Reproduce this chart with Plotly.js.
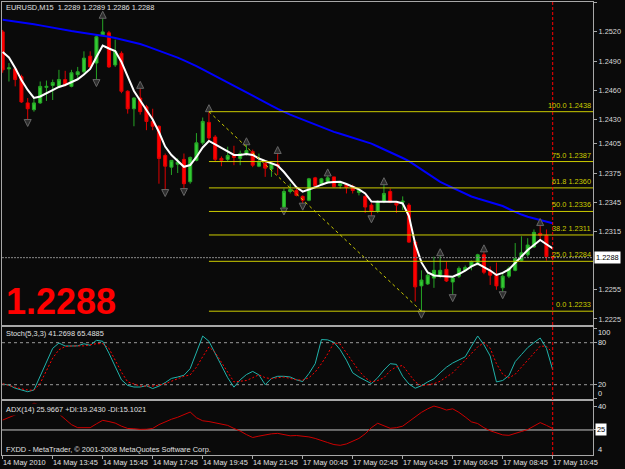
<!DOCTYPE html>
<html><head><meta charset="utf-8">
<script src="https://cdn.plot.ly/plotly-3.0.1.min.js"></script>
<style>html,body{margin:0;padding:0;background:#0a0a0a;overflow:hidden}#chart{width:625px;height:469px}</style>
</head><body><div id="chart"></div>
<script>
// ---------- data ----------
const symbol = 'EURUSD', timeframe = 'M15';
const tickIndex = [0,8,16,24,32,40,48,56,64,72,80,88];
const tickLabels = ['14 May 2010','14 May 13:45','14 May 15:45','14 May 17:45','14 May 19:45','14 May 21:45',
  '17 May 00:45','17 May 02:45','17 May 04:45','17 May 06:45','17 May 08:45','17 May 10:45'];

const open = [1.2520,1.2482,1.2482,1.2474,1.2447,1.2440,1.2447,1.2463,1.2465,1.2464,
1.2471,1.2464,1.2476,1.2479,1.2495,1.2488,1.2517,1.2519,1.2486,1.2498,
1.2459,1.2441,1.2452,1.2443,1.2428,1.2423,1.2393,1.2381,1.2384,1.2389,
1.2366,1.2388,1.2406,1.2427,1.2412,1.2390,1.2389,1.2393,1.2390,1.2395,
1.2397,1.2382,1.2385,1.2379,1.2384,1.2340,1.2356,1.2357,1.2351,1.2347,
1.2370,1.2364,1.2366,1.2371,1.2362,1.2363,1.2361,1.2355,1.2351,1.2342,
1.2336,1.2346,1.2356,1.2344,1.2345,1.2342,1.2304,1.2259,1.2261,1.2267,
1.2269,1.2276,1.2263,1.2269,1.2275,1.2279,1.2283,1.2291,1.2274,1.2270,
1.2257,1.2269,1.2275,1.2285,1.2291,1.2299,1.2313,1.2311,1.2289];
const high = [1.2522,1.2488,1.2484,1.2476,1.2452,1.2452,1.2469,1.2470,1.2471,1.2481,
1.2480,1.2481,1.2484,1.2500,1.2500,1.2517,1.2534,1.2521,1.2512,1.2500,
1.2460,1.2453,1.2462,1.2445,1.2441,1.2424,1.2395,1.2388,1.2390,1.2395,
1.2392,1.2416,1.2432,1.2438,1.2414,1.2392,1.2402,1.2403,1.2398,1.2404,
1.2399,1.2395,1.2388,1.2385,1.2395,1.2359,1.2364,1.2359,1.2352,1.2370,
1.2371,1.2370,1.2372,1.2371,1.2366,1.2364,1.2363,1.2359,1.2352,1.2344,
1.2347,1.2363,1.2359,1.2346,1.2351,1.2344,1.2306,1.2275,1.2274,1.2289,
1.2290,1.2284,1.2268,1.2279,1.2280,1.2285,1.2292,1.2294,1.2279,1.2283,
1.2272,1.2279,1.2303,1.2310,1.2308,1.2317,1.2321,1.2317,1.2289];
const low = [1.2478,1.2469,1.2464,1.2447,1.2430,1.2438,1.2446,1.2449,1.2450,1.2462,
1.2464,1.2463,1.2472,1.2477,1.2481,1.2471,1.2516,1.2483,1.2484,1.2457,
1.2436,1.2423,1.2435,1.2419,1.2419,1.2364,1.2358,1.2373,1.2375,1.2359,
1.2364,1.2387,1.2404,1.2409,1.2387,1.2382,1.2387,1.2383,1.2383,1.2393,
1.2381,1.2381,1.2371,1.2371,1.2373,1.2339,1.2354,1.2351,1.2344,1.2346,
1.2360,1.2363,1.2364,1.2360,1.2359,1.2354,1.2354,1.2352,1.2334,1.2331,
1.2334,1.2344,1.2344,1.2334,1.2337,1.2303,1.2243,1.2233,1.2260,1.2257,
1.2267,1.2263,1.2250,1.2267,1.2274,1.2275,1.2280,1.2271,1.2260,1.2255,
1.2253,1.2267,1.2274,1.2284,1.2289,1.2298,1.2306,1.2285,1.2286];
const close = [1.2481,1.2483,1.2471,1.2448,1.2441,1.2447,1.2464,1.2464,1.2468,1.2471,
1.2466,1.2478,1.2479,1.2493,1.2484,1.2515,1.2520,1.2484,1.2500,1.2459,
1.2441,1.2452,1.2438,1.2428,1.2423,1.2390,1.2382,1.2388,1.2386,1.2364,
1.2391,1.2406,1.2428,1.2411,1.2389,1.2388,1.2393,1.2391,1.2395,1.2398,
1.2383,1.2387,1.2380,1.2384,1.2382,1.2356,1.2358,1.2352,1.2347,1.2369,
1.2362,1.2369,1.2370,1.2361,1.2364,1.2360,1.2357,1.2357,1.2340,1.2336,
1.2346,1.2354,1.2345,1.2342,1.2346,1.2304,1.2258,1.2265,1.2270,1.2275,
1.2275,1.2264,1.2267,1.2277,1.2278,1.2284,1.2291,1.2273,1.2270,1.2259,
1.2269,1.2277,1.2287,1.2293,1.2301,1.2314,1.2311,1.2289,1.2288];

const maFast = [1.24993,1.24937,1.24829,1.24706,1.24603,1.24521,1.24536,1.24567,1.24600,1.24634,
1.24654,1.24685,1.24713,1.24762,1.24819,1.24942,1.25060,1.25029,1.25004,1.24891,
1.24737,1.24593,1.24495,1.24398,1.24300,1.24171,1.24022,1.23935,1.23873,1.23814,
1.23832,1.23915,1.24012,1.24079,1.24043,1.24007,1.23971,1.23935,1.23935,1.23945,
1.23935,1.23899,1.23873,1.23850,1.23827,1.23760,1.23683,1.23603,1.23558,1.23578,
1.23603,1.23630,1.23652,1.23658,1.23660,1.23637,1.23609,1.23581,1.23540,1.23457,
1.23455,1.23455,1.23455,1.23455,1.23437,1.23308,1.23021,1.22831,1.22728,1.22697,
1.22692,1.22689,1.22685,1.22712,1.22746,1.22790,1.22820,1.22784,1.22748,1.22702,
1.22723,1.22759,1.22825,1.22887,1.22959,1.23010,1.23062,1.23018,1.22976];
const maSlow = [1.25324,1.25316,1.25307,1.25298,1.25288,1.25279,1.25267,1.25254,1.25242,1.25230,
1.25217,1.25208,1.25199,1.25190,1.25180,1.25172,1.25163,1.25151,1.25137,1.25123,
1.25110,1.25096,1.25076,1.25053,1.25030,1.25008,1.24985,1.24963,1.24936,1.24908,
1.24880,1.24848,1.24814,1.24781,1.24747,1.24714,1.24681,1.24648,1.24615,1.24582,
1.24549,1.24513,1.24478,1.24443,1.24409,1.24377,1.24350,1.24324,1.24298,1.24272,
1.24246,1.24221,1.24195,1.24173,1.24153,1.24133,1.24114,1.24095,1.24077,1.24052,
1.24022,1.23994,1.23965,1.23935,1.23904,1.23871,1.23828,1.23783,1.23737,1.23692,
1.23658,1.23627,1.23596,1.23565,1.23532,1.23509,1.23488,1.23468,1.23449,1.23432,
1.23411,1.23380,1.23349,1.23323,1.23301,1.23283,1.23267,1.23250,1.23233];

const stochMain = [21,19.5,15,12,10,12.5,33,53,72,79.5,
75.3,75.3,75.5,78.5,76.3,83.4,82,65,46,27,
19,16.7,16.7,18.5,14.5,18,23,29,31,33.5,
43,65,89.5,82,64,46,30,16.5,27,34.5,
39,34,20,29,32,32,31,27,24.5,36,
50,84.5,84,80.5,70,55,37,31,26,21.5,
30,41,50,49,32,21,15,18.5,24,28.5,
37,45,51,55,59.8,75,89.6,77,61,24,
26,33,53,63,73,80,86.7,72,41.3];
const stochSignal = [21.4,19,16,14,12.5,12,22,40,58,70,
74.5,75.3,75.3,75.5,77,78.6,78.6,72,55,38,
24,21,18.1,18.1,18.1,19.5,21.4,25,28.6,32,
34,45,60,74,66,52,38,24,25,26,
30,34.3,30,28.6,30,31,29,27,26.5,30,
38,50,64,80,78,65,52.4,40,30,24,
26,30,40,45.5,47.5,36,24,18.5,19.5,21.4,
25,31,37,46,55,64,74,80,72,50,
35,29.6,35,45,55,65,75,75,65.5];
const adx = [31.5,33,34.8,36.5,40,42.5,41,40,38,35.5,
32,28.5,26.5,26.5,26.5,29,31.3,30.5,29.5,27.5,
26,25.8,25.4,25.5,26,28.5,30.5,32,33.3,35,
36.7,33,31,30.5,29.5,28.8,28,26,24.3,22,
20.1,21,22,22.5,22.8,21.8,21.2,21.4,21,20.5,
19.5,17.9,16.8,15.5,15,15.9,17.5,19.5,22.5,26.5,
29.4,27.5,26.1,26.5,27.5,30.5,33.5,36.5,38.8,40.6,
39.5,38,38.8,36.5,33.5,30.3,29.2,26.5,24.5,23,
21.8,21.5,22.5,24,25.3,27.5,29.8,28,26];

const fibHigh = 1.2438, fibLow = 1.2233, fibHighBar = 33, fibLowBar = 67;
const fibLevels = [0, 25, 38.2, 50, 61.8, 75, 100];
const fractalUp = [16,22,33,39,44,52,61,70,77,86];
const fractalDown = [4,15,26,29,45,48,59,67,72,80];
const priceTicks = [1.2550,1.2520,1.2490,1.2460,1.2430,1.2405,1.2375,1.2345,1.2315,1.2255,1.2225];
const stochLevels = [80, 20];
const adxLevel = 25;
const stochText = 'Stoch(5,3,3) 41.2698 65.4885';
const adxText = 'ADX(14) 25.9667 +DI:19.2430 -DI:15.1021';
const footerText = 'FXDD - MetaTrader, \u00a9 2001-2008 MetaQuotes Software Corp.';

// ---------- helpers / layout constants ----------
const N = close.length;
const idx = Array.from({length: N}, (_, i) => i);
const last = N - 1;
const bid = close[last];
const fmt = v => (Math.round(v * 10000 + 1e-6) / 10000).toFixed(4);
const FONT = 'Liberation Sans, Arial, sans-serif';
const FS = 7.4;
const BG = '#0a0a0a';
const AX = '#a8a8a8';
const FIB = '#cccc00';

const xRange = [-0.11, 94.45];
const yMainRange = [1.221882, 1.25507];
const yStochRange = [-0.43, 102.43];
const yAdxRange = [8.69, 43.9];
const mainPx = 323;
const fracOff = 7 * (yMainRange[1] - yMainRange[0]) / mainPx;

const traces = [];
traces.push({type: 'candlestick', x: idx, open, high, low, close, xaxis: 'x', yaxis: 'y',
  increasing: {line: {color: '#26a626', width: 1}, fillcolor: '#33cc33'},
  decreasing: {line: {color: '#e00000', width: 1}, fillcolor: '#ff0000'},
  whiskerwidth: 0, hoverinfo: 'skip'});
traces.push({type: 'scatter', mode: 'lines', x: idx, y: maSlow, xaxis: 'x', yaxis: 'y',
  line: {color: '#0000ff', width: 2}, hoverinfo: 'skip'});
traces.push({type: 'scatter', mode: 'lines', x: idx, y: maFast, xaxis: 'x', yaxis: 'y',
  line: {color: '#ffffff', width: 2}, hoverinfo: 'skip'});
// fractals
const fracMarker = s => ({symbol: s, size: 7, color: '#2e2e2e', line: {color: '#666666', width: 1}});
traces.push({type: 'scatter', mode: 'markers', x: fractalUp, y: fractalUp.map(i => high[i] + fracOff),
  xaxis: 'x', yaxis: 'y', marker: fracMarker('arrow-up'), hoverinfo: 'skip'});
traces.push({type: 'scatter', mode: 'markers', x: fractalDown, y: fractalDown.map(i => low[i] - fracOff),
  xaxis: 'x', yaxis: 'y', marker: fracMarker('arrow-down'), hoverinfo: 'skip'});
// bid line
traces.push({type: 'scatter', mode: 'lines', x: xRange, y: [bid, bid], xaxis: 'x', yaxis: 'y',
  line: {color: '#8a8a8a', width: 1, dash: '2px,1px'}, hoverinfo: 'skip'});
// fib lines
const fibPrice = p => fibLow + p / 100 * (fibHigh - fibLow);
const fx = [], fy = [];
fibLevels.forEach(p => { fx.push(fibHighBar, xRange[1], null); fy.push(fibPrice(p), fibPrice(p), null); });
traces.push({type: 'scatter', mode: 'lines', x: fx, y: fy, xaxis: 'x', yaxis: 'y',
  line: {color: FIB, width: 1}, hoverinfo: 'skip'});
traces.push({type: 'scatter', mode: 'lines', x: [fibHighBar, fibLowBar], y: [fibHigh, fibLow], xaxis: 'x', yaxis: 'y',
  line: {color: FIB, width: 1, dash: '3px,3px'}, hoverinfo: 'skip'});
// stochastic
stochLevels.forEach(l => traces.push({type: 'scatter', mode: 'lines', x: xRange, y: [l, l], xaxis: 'x2', yaxis: 'y2',
  line: {color: '#9a9a9a', width: 1, dash: '3px,3px'}, hoverinfo: 'skip'}));
traces.push({type: 'scatter', mode: 'lines', x: idx, y: stochMain, xaxis: 'x2', yaxis: 'y2',
  line: {color: '#20b2aa', width: 1}, hoverinfo: 'skip'});
traces.push({type: 'scatter', mode: 'lines', x: idx, y: stochSignal, xaxis: 'x2', yaxis: 'y2',
  line: {color: '#ff0000', width: 1, dash: '2px,2px'}, hoverinfo: 'skip'});
// ADX
traces.push({type: 'scatter', mode: 'lines', x: xRange, y: [adxLevel, adxLevel], xaxis: 'x3', yaxis: 'y3',
  line: {color: '#c8c8c8', width: 1}, hoverinfo: 'skip'});
traces.push({type: 'scatter', mode: 'lines', x: idx, y: adx, xaxis: 'x3', yaxis: 'y3',
  line: {color: '#cc0000', width: 1}, hoverinfo: 'skip'});

const txt = (c) => ({family: FONT, size: FS, color: c || '#e0e0e0'});
const ann = [];
ann.push({xref: 'paper', yref: 'paper', x: 0, y: 0.9874, xanchor: 'left', yanchor: 'middle', xshift: 2,
  text: symbol + ',' + timeframe + '&nbsp;&nbsp;' + [open[last], high[last], low[last], close[last]].map(fmt).join(' '),
  showarrow: false, font: txt()});
ann.push({xref: 'paper', yref: 'paper', x: 0, y: 0.3389, xanchor: 'left', yanchor: 'middle', xshift: 2,
  text: '<b>' + fmt(bid) + '</b>', showarrow: false, font: {family: FONT, size: 36, color: '#ff0000'}});
ann.push({xref: 'paper', yref: 'paper', x: 0, y: 0.2693, xanchor: 'left', yanchor: 'middle', xshift: 2,
  text: stochText, showarrow: false, font: txt()});
ann.push({xref: 'paper', yref: 'paper', x: 0, y: 0.1015, xanchor: 'left', yanchor: 'middle', xshift: 2,
  text: adxText, showarrow: false, font: txt(), bgcolor: BG});
ann.push({xref: 'paper', yref: 'paper', x: 0, y: 0.0132, xanchor: 'left', yanchor: 'middle', xshift: 2,
  text: footerText, showarrow: false, font: txt()});
// fib labels
fibLevels.forEach(p => ann.push({xref: 'paper', yref: 'y', x: 1, y: fibPrice(p), xanchor: 'right', yanchor: 'bottom',
  text: p.toFixed(1) + ' ' + fmt(fibPrice(p)), showarrow: false, font: txt(FIB)}));
// current price box
ann.push({xref: 'paper', yref: 'y', x: 1, y: bid, xanchor: 'left', yanchor: 'middle', xshift: 1,
  text: fmt(bid), showarrow: false, font: txt('#000000'), bgcolor: '#ffffff', borderpad: 1});
// stoch scale labels
[[100, -4], [80, 0], [20, 0], [0, 5]].forEach(([v, s]) => ann.push({xref: 'paper', yref: 'y2', x: 1, y: v, yshift: s,
  xanchor: 'left', yanchor: 'middle', xshift: 3, text: String(v), showarrow: false, font: txt()}));
ann.push({xref: 'paper', yref: 'y3', x: 1, y: 40, xanchor: 'left', yanchor: 'middle', xshift: 3,
  text: '40', showarrow: false, font: txt()});
ann.push({xref: 'paper', yref: 'y3', x: 1, y: adxLevel, xanchor: 'left', yanchor: 'middle', xshift: 2,
  text: String(adxLevel), showarrow: false, font: txt('#000000'), bgcolor: '#ffffff', borderpad: 1});
ann.push({xref: 'paper', yref: 'paper', x: 1, y: 0.0126, xanchor: 'left', yanchor: 'middle', xshift: 3,
  text: '4', showarrow: false, font: txt()});
// time labels
tickIndex.forEach((t, k) => ann.push({xref: 'x3', yref: 'paper', x: t, y: 0, xanchor: 'left', yanchor: 'top',
  xshift: -2, yshift: -1, text: tickLabels[k], showarrow: false, font: txt()}));

const baseX = {range: xRange, showgrid: false, zeroline: false, showline: true, mirror: true,
  linecolor: AX, linewidth: 1, showticklabels: false, ticks: '', fixedrange: true};
const baseY = {side: 'right', showgrid: false, zeroline: false, showline: true, mirror: true,
  linecolor: AX, linewidth: 1, fixedrange: true};

const layout = {
  width: 625, height: 469, margin: {l: 2, r: 32, t: 2, b: 14},
  paper_bgcolor: BG, plot_bgcolor: BG, showlegend: false, hovermode: false,
  xaxis: Object.assign({}, baseX, {anchor: 'y', rangeslider: {visible: false}}),
  xaxis2: Object.assign({}, baseX, {anchor: 'y2', matches: 'x'}),
  xaxis3: Object.assign({}, baseX, {anchor: 'y3', matches: 'x', ticks: 'outside', ticklen: 3,
    tickcolor: AX, tickvals: tickIndex}),
  yaxis: Object.assign({}, baseY, {domain: [0.28698, 1], range: yMainRange, anchor: 'x',
    tickvals: priceTicks, ticktext: priceTicks.map(fmt), ticks: 'outside', ticklen: 3, tickcolor: AX,
    tickfont: txt('#d8d8d8')}),
  yaxis2: Object.assign({}, baseY, {domain: [0.1236, 0.28256], range: yStochRange, anchor: 'x2',
    tickvals: [100, 80, 20, 0], ticks: 'outside', ticklen: 3, tickcolor: AX, showticklabels: false}),
  yaxis3: Object.assign({}, baseY, {domain: [0, 0.1192], range: yAdxRange, anchor: 'x3',
    tickvals: [40, adxLevel], ticks: 'outside', ticklen: 3, tickcolor: AX, showticklabels: false}),
  shapes: [{type: 'line', xref: 'x', yref: 'paper', x0: last, x1: last, y0: 0, y1: 1,
    line: {color: '#ff0000', width: 1, dash: '3px,2px'}}],
  annotations: ann
};

Plotly.newPlot('chart', traces, layout, {staticPlot: true, displayModeBar: false});
</script>
</body></html>
